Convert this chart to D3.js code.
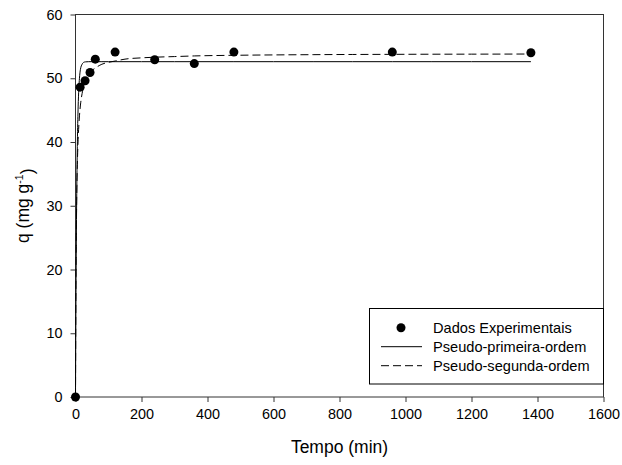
<!DOCTYPE html>
<html>
<head>
<meta charset="utf-8">
<script src="https://cdn.jsdelivr.net/npm/d3@7"></script>
<style>
  body { margin: 0; background: #fff; }
  text { font-family: "Liberation Sans", Arial, sans-serif; fill: #000; }
</style>
</head>
<body>
<script>
// experimental points
const tExp = [0, 14, 29, 44, 60, 120, 240, 360, 480, 960, 1380];
const qExp = [0, 48.6, 49.6, 50.9, 53.0, 54.1, 52.9, 52.3, 54.1, 54.1, 54.0];

// fitted curves
const tFit = [0, 1, 2, 3, 4, 5, 6, 8, 10, 12, 15, 20, 25, 30, 40, 50, 60, 80, 100, 120, 150, 200, 240, 300, 360, 480, 600, 720, 840, 960, 1080, 1200, 1380];
const qPrimeira = [0, 11.6, 20.7, 27.8, 33.2, 37.5, 40.9, 45.5, 48.3, 50.0, 51.4, 52.2, 52.5, 52.57, 52.6, 52.6, 52.6, 52.6, 52.6, 52.6, 52.6, 52.6, 52.6, 52.6, 52.6, 52.6, 52.6, 52.6, 52.6, 52.6, 52.6, 52.6, 52.6];
const qSegunda = [0, 14.7, 23.1, 28.5, 32.3, 35.1, 37.3, 40.4, 42.5, 44.1, 45.8, 47.6, 48.7, 49.5, 50.5, 51.2, 51.6, 52.2, 52.5, 52.7, 53.0, 53.2, 53.3, 53.4, 53.5, 53.6, 53.66, 53.7, 53.73, 53.75, 53.77, 53.78, 53.8];

const xTicks = [0, 200, 400, 600, 800, 1000, 1200, 1400, 1600];
const yTicks = [0, 10, 20, 30, 40, 50, 60];
const legendLabels = ["Dados Experimentais", "Pseudo-primeira-ordem", "Pseudo-segunda-ordem"];

const W = 622, H = 465;
const svg = d3.select("body").append("svg")
    .attr("width", W)
    .attr("height", H);

const x = d3.scaleLinear().domain([0, 1600]).range([75.5, 603.5]);
const y = d3.scaleLinear().domain([0, 60]).range([397, 14.5]);

// frame
svg.append("rect")
    .attr("x", x(0)).attr("y", y(60))
    .attr("width", x(1600) - x(0))
    .attr("height", y(0) - y(60))
    .attr("fill", "none")
    .attr("stroke", "#333")
    .attr("stroke-width", 1);

// axes
const xAxis = svg.append("g")
    .attr("transform", "translate(0," + y(0) + ")")
    .call(d3.axisBottom(x).tickValues(xTicks).tickSize(5).tickPadding(7).tickFormat(d3.format("d")));
const yAxis = svg.append("g")
    .attr("transform", "translate(" + x(0) + ",0)")
    .call(d3.axisLeft(y).tickValues(yTicks).tickSize(5).tickPadding(8).tickFormat(d3.format("d")));

[xAxis, yAxis].forEach(g => {
    g.select(".domain").remove();
    g.selectAll(".tick line").attr("stroke", "#333");
    g.selectAll(".tick text")
        .style("font-family", "'Liberation Sans', Arial, sans-serif")
        .style("font-size", "14.4px")
        .attr("fill", "#000");
});

// axis titles
svg.append("text")
    .attr("x", (x(0) + x(1600)) / 2)
    .attr("y", 453)
    .attr("text-anchor", "middle")
    .style("font-size", "17.5px")
    .text("Tempo (min)");

const yt = svg.append("text")
    .attr("transform", "translate(29," + (y(30)) + ") rotate(-90)")
    .attr("text-anchor", "middle")
    .style("font-size", "17.5px");
yt.append("tspan").text("q (mg g");
yt.append("tspan").attr("dy", "-0.55em").style("font-size", "10.5px").text("-1");
yt.append("tspan").attr("dy", "0.55em").text(")");

// fitted lines
const fitLine = q => d3.line()
    .x((d, i) => x(tFit[i]))
    .y((d, i) => y(q[i]))
    .curve(d3.curveMonotoneX)(tFit);

svg.append("path")
    .attr("d", fitLine(qPrimeira))
    .attr("fill", "none")
    .attr("stroke", "#000")
    .attr("stroke-width", 1);

svg.append("path")
    .attr("d", fitLine(qSegunda))
    .attr("fill", "none")
    .attr("stroke", "#000")
    .attr("stroke-width", 1)
    .attr("stroke-dasharray", "8,4");

// experimental points
svg.append("g")
    .selectAll("circle")
    .data(tExp)
    .enter()
    .append("circle")
        .attr("cx", (d) => x(d))
        .attr("cy", (d, i) => y(qExp[i]))
        .attr("r", 4.5)
        .attr("fill", "#000");

// legend
const leg = svg.append("g");
leg.append("rect")
    .attr("x", 369.5).attr("y", 308.5)
    .attr("width", 234).attr("height", 75.5)
    .attr("fill", "#fff")
    .attr("stroke", "#000");

const rowY = [327.7, 346.7, 365.7];
leg.append("circle")
    .attr("cx", 401).attr("cy", rowY[0]).attr("r", 4.5).attr("fill", "#000");
leg.append("line")
    .attr("x1", 381).attr("x2", 422).attr("y1", rowY[1]).attr("y2", rowY[1])
    .attr("stroke", "#000");
leg.append("line")
    .attr("x1", 381).attr("x2", 422).attr("y1", rowY[2]).attr("y2", rowY[2])
    .attr("stroke", "#000").attr("stroke-dasharray", "8,4");

leg.selectAll("text.lbl")
    .data(legendLabels)
    .enter()
    .append("text")
    .attr("class", "lbl")
    .attr("x", 433)
    .attr("y", (d, i) => rowY[i])
    .attr("dy", "0.36em")
    .style("font-size", "14.6px")
    .text(d => d);
</script>
</body>
</html>
